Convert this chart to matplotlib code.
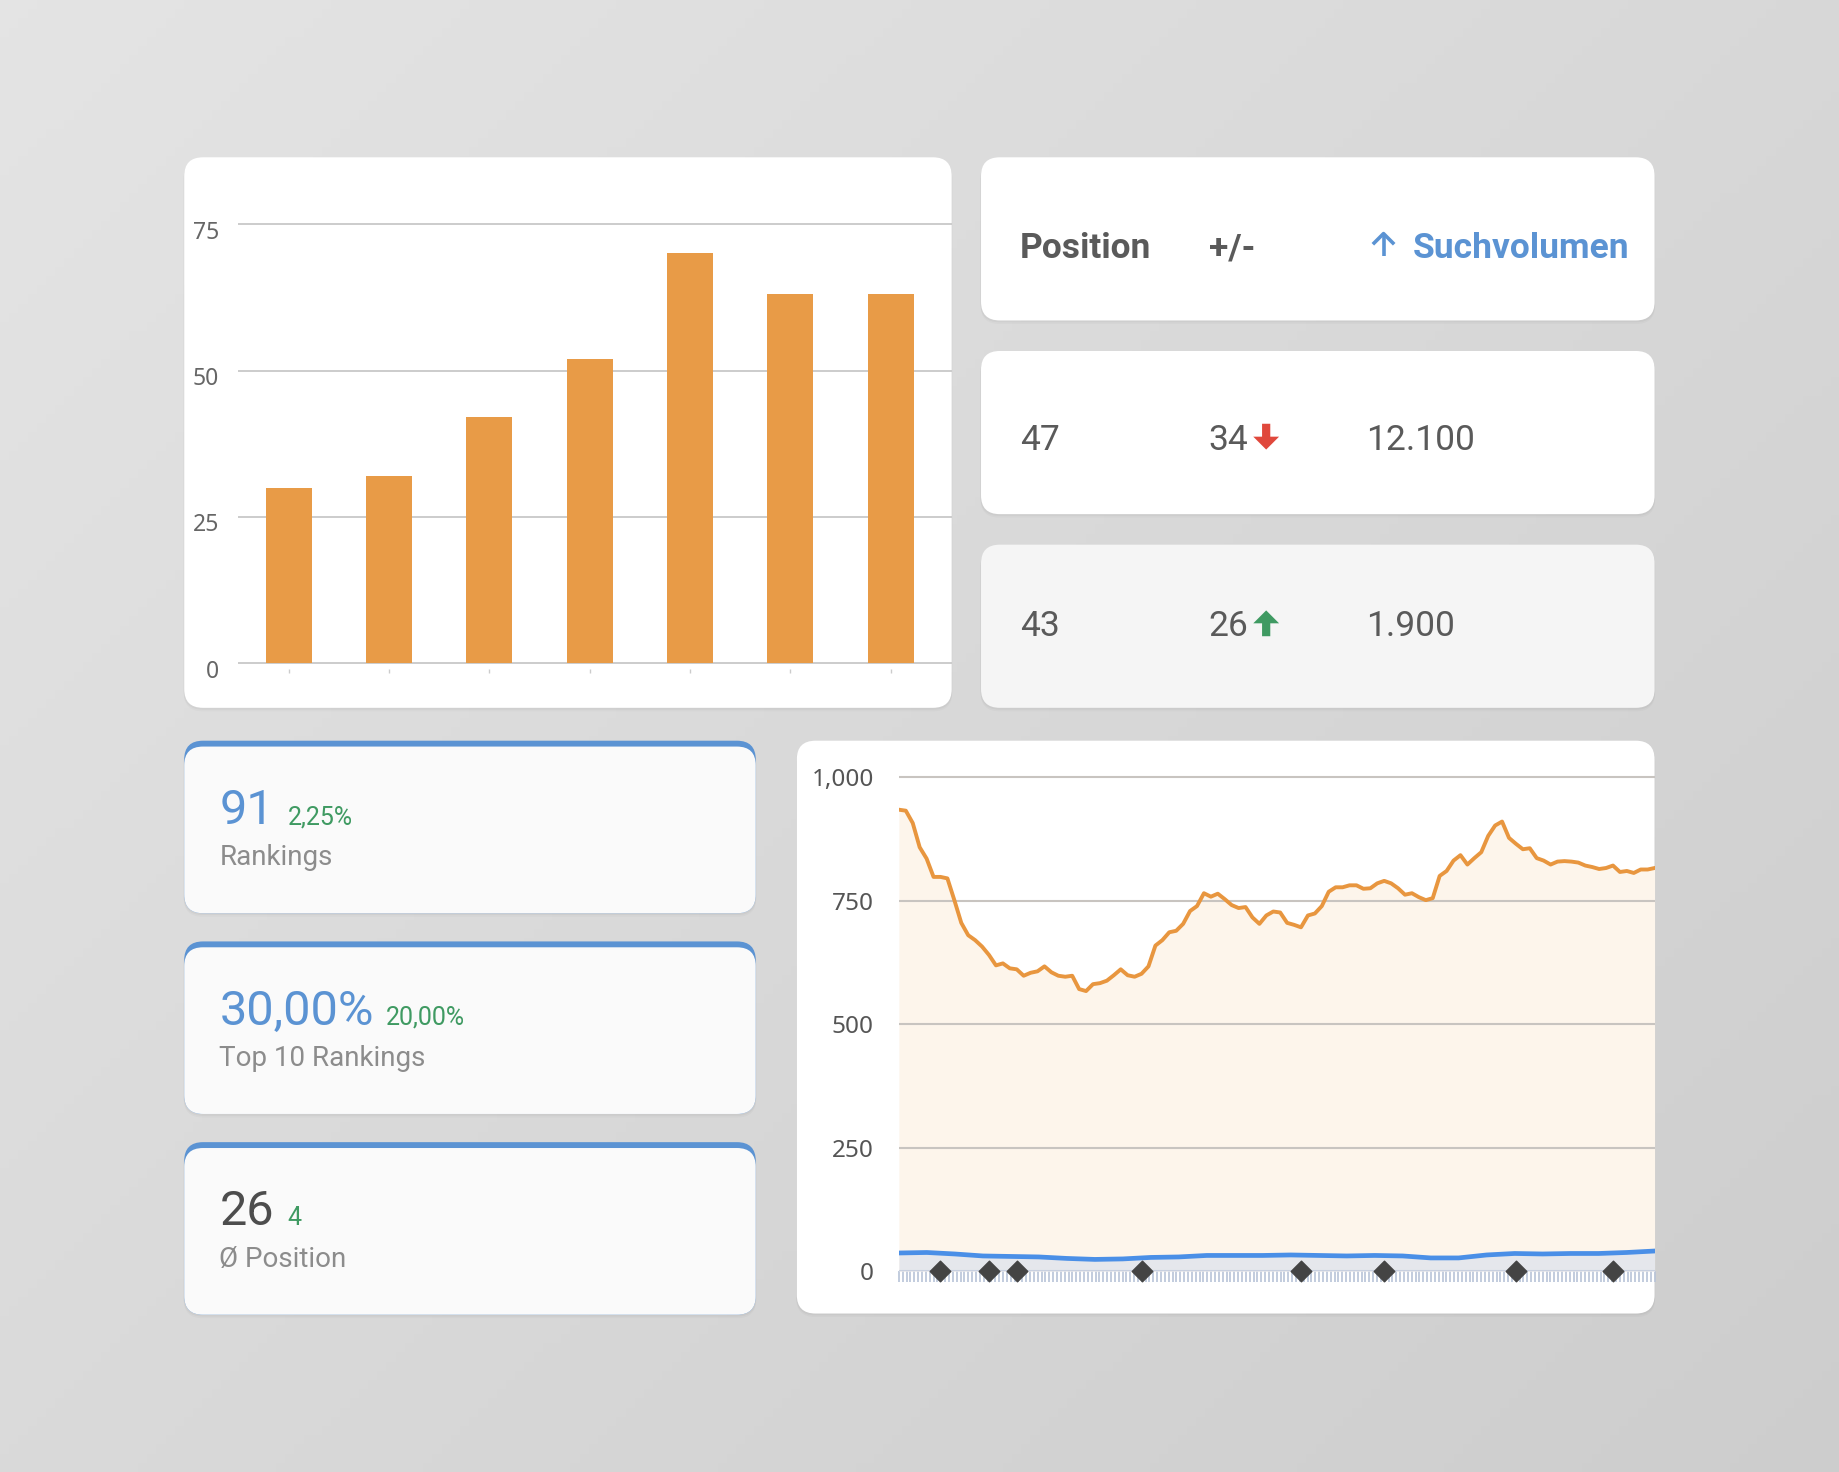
import numpy as np
import matplotlib.pyplot as plt
from matplotlib.patches import FancyBboxPatch, Polygon
from matplotlib.transforms import ScaledTranslation

# canvas units (drawn at 1840x1472 px)
W, H = 1568, 1254

# bar chart data
bar_values = [30, 32, 42, 52, 70, 63, 63]
bar_ticks = [0, 25, 50, 75]

# table
table_header = ["Position", "+/-", "Suchvolumen"]
table_rows = [("47", "34", "12.100", "down"), ("43", "26", "1.900", "up")]

# kpi cards
kpi_values = ["91", "30,00%", "26"]
kpi_changes = ["2,25%", "20,00%", "4"]
kpi_labels = ["Rankings", "Top 10 Rankings", "Ø Position"]

# area chart data
search_volume = [934, 932, 907, 858, 835, 798, 798, 795, 751, 705, 680, 670, 657, 640,
                 619, 623, 613, 611, 598, 604, 607, 617, 605, 598, 596, 598, 571, 567,
                 581, 583, 588, 599, 611, 599, 596, 602, 617, 659, 670, 686, 689, 703,
                 729, 739, 765, 758, 764, 753, 741, 735, 737, 716, 703, 720, 728, 726,
                 705, 701, 696, 720, 724, 739, 768, 777, 777, 781, 781, 774, 775, 785,
                 790, 785, 775, 762, 765, 757, 751, 755, 800, 810, 831, 842, 823, 836,
                 848, 881, 902, 910, 877, 865, 854, 856, 836, 831, 823, 829, 830, 829,
                 827, 821, 818, 814, 816, 821, 808, 810, 806, 813, 813, 816]
position_line = [37, 38, 35, 31, 30, 29, 26, 24, 25, 28, 29, 32, 32, 32, 33, 32, 31, 32,
                 31, 27, 27, 33, 36, 35, 36, 36, 38, 41]
event_idx = [6, 13, 17, 35, 58, 70, 89, 103]
area_ticks = [0, 250, 500, 750, 1000]

BLUE = "#5b93d3"
GREEN = "#3f9a62"
RED = "#e0483c"
ORANGE = "#e89b47"
TXT = "#5a5a5a"
GREY = "#8c8c8c"

fig = plt.figure(figsize=(18.4, 14.72), dpi=100)
bg = fig.add_axes([0, 0, 1, 1])
bg.set_xlim(0, W)
bg.set_ylim(H, 0)
bg.axis("off")

# background gradient
gx, gy = np.meshgrid(np.linspace(0, 1, 200), np.linspace(0, 1, 160))
grad = 0.895 - 0.09 * (0.55 * gx + 0.45 * gy)
bg.imshow(np.dstack([grad] * 3), extent=[0, W, H, 0], aspect="auto", zorder=0)


def card(x0, y0, x1, y1, color="white", r=16):
    for k, a in [(3, 0.02), (1.5, 0.03)]:
        sh = FancyBboxPatch((x0 - 0.5, y0 + k), x1 - x0 + 1, y1 - y0, boxstyle=f"round,pad=0,rounding_size={r}",
                            fc=(0, 0, 0, a), ec="none", zorder=1)
        bg.add_patch(sh)
    p = FancyBboxPatch((x0, y0), x1 - x0, y1 - y0, boxstyle=f"round,pad=0,rounding_size={r}",
                       fc=color, ec="none", zorder=2)
    bg.add_patch(p)


def to_fig(x0, y0, x1, y1):
    return [x0 / W, 1 - y1 / H, (x1 - x0) / W, (y1 - y0) / H]


# ---- cards
card(157, 134, 811, 603)
card(836, 134, 1410, 273)
card(836, 299, 1410, 438)
card(836, 464, 1410, 603, color="#f5f5f5")
card(679, 631, 1410, 1119)
kpi_tops = [631, 802, 973]
for t in kpi_tops:
    card(157, t, 644, t + 147, color=BLUE)
    bg.add_patch(FancyBboxPatch((157, t + 5), 487, 142, boxstyle="round,pad=0,rounding_size=16",
                                fc="#fafafa", ec="none", zorder=3))

# ---- table text
font = ["Roboto", "DejaVu Sans"]
fs = 25.5
bg.text(869, 220, table_header[0], fontsize=fs, color=TXT, fontweight="bold", family=font, zorder=5)
bg.text(1030, 220, table_header[1], fontsize=fs, color=TXT, fontweight="bold", family=font, zorder=5)
bg.text(1204, 220, table_header[2], fontsize=fs, color=BLUE, fontweight="bold", family=font, zorder=5)
bg.plot([1179, 1179], [218, 199], color=BLUE, lw=2.6, solid_capstyle="butt", zorder=5)
bg.plot([1171, 1179, 1187], [207, 199, 207], color=BLUE, lw=2.6, zorder=5)


def arrow(cx, cy, up, color):
    s = -1 if up else 1
    pts = [(cx - 3.5, cy - 11 * s), (cx + 3.5, cy - 11 * s), (cx + 3.5, cy), (cx + 11, cy),
           (cx, cy + 11 * s), (cx - 11, cy), (cx - 3.5, cy)]
    bg.add_patch(Polygon(pts, closed=True, fc=color, ec="none", zorder=5))


row_base = [383, 542]
for (pos, diff, vol, d), yb in zip(table_rows, row_base):
    bg.text(869, yb, pos, fontsize=fs, color=TXT, family=font, zorder=5)
    bg.text(1030, yb, diff, fontsize=fs, color=TXT, family=font, zorder=5)
    bg.text(1164, yb, vol, fontsize=fs, color=TXT, family=font, zorder=5)
    arrow(1079, yb - 11, d == "up", GREEN if d == "up" else RED)

# ---- kpi text
val_colors = [BLUE, BLUE, "#4d4d4d"]
change_x = [245, 329, 245]
for t, v, c, lab, vc, cx in zip(kpi_tops, kpi_values, kpi_changes, kpi_labels, val_colors, change_x):
    bg.text(187, t + 71, v, fontsize=35, color=vc, family=font, zorder=5)
    bg.text(cx, t + 71, c, fontsize=18, color=GREEN, family=font, zorder=5)
    bg.text(187, t + 106, lab, fontsize=20, color=GREY, family=font, zorder=5)

# ---- bar chart
bx = fig.add_axes(to_fig(203, 185, 811, 570))
bx.set_facecolor("none")
step = 85.5
bx.bar(range(len(bar_values)), bar_values, width=39 / step, color=ORANGE, zorder=3)
bx.set_xlim((203 - 246) / step, (811 - 246) / step)
bx.set_ylim(-5 / 4.987, 75 + 6 / 4.987)
bx.set_yticks(bar_ticks)
bx.set_yticklabels([str(t) for t in bar_ticks], fontsize=16.5, color="#666666", family="Noto Sans")
bx.tick_params(axis="y", length=0, pad=14)
for lab in bx.get_yticklabels():
    lab.set_transform(lab.get_transform() + ScaledTranslation(0, -4 / 72, fig.dpi_scale_trans))
bx.set_xticks(range(len(bar_values)))
bx.set_xticklabels([])
bx.tick_params(axis="x", length=3, color="#cccccc", width=1)
bx.grid(axis="y", color="#cccccc", lw=1.4, zorder=1)
for s in bx.spines.values():
    s.set_visible(False)

# ---- area chart
n = len(search_volume)
ax = fig.add_axes(to_fig(766, 650, 1410, 1083))
ax.set_facecolor("none")
xs = np.arange(n)
px = np.linspace(0, n - 1, len(position_line))
ax.fill_between(xs, search_volume, 0, color="#fdf5eb", lw=0, zorder=1)
for t in area_ticks[1:]:
    ax.axhline(t, color="#c8c4c0", lw=1.5, zorder=1.5)
ax.fill_between(px, position_line, 0, color="#e5e7ec", lw=0, zorder=2)
ax.plot(xs, search_volume, color="#e8963f", lw=2.8, zorder=3)
ax.plot(px, position_line, color="#4a8fe7", lw=3.4, zorder=3)
ax.axhline(0, color="#c8d0e0", lw=1.5, zorder=2.5)
ax.scatter(event_idx, [0] * len(event_idx), marker="D", s=110, color="#444444", zorder=5, clip_on=False)
ax.set_xlim(0, n - 1)
ax.set_ylim(0, 1000 + 12 / 0.421)
ax.set_yticks(area_ticks)
ax.set_yticklabels([f"{t:,}" for t in area_ticks], fontsize=17.5, color="#555555", family="Noto Sans")
ax.tick_params(axis="y", length=0, pad=18)
ax.set_xticks(np.linspace(0, n - 1, 197))
ax.set_xticklabels([])
ax.tick_params(axis="x", length=8, width=1.2, color="#b8c4d8", direction="out")
for s in ax.spines.values():
    s.set_visible(False)

fig.savefig("out.png", dpi=100)
